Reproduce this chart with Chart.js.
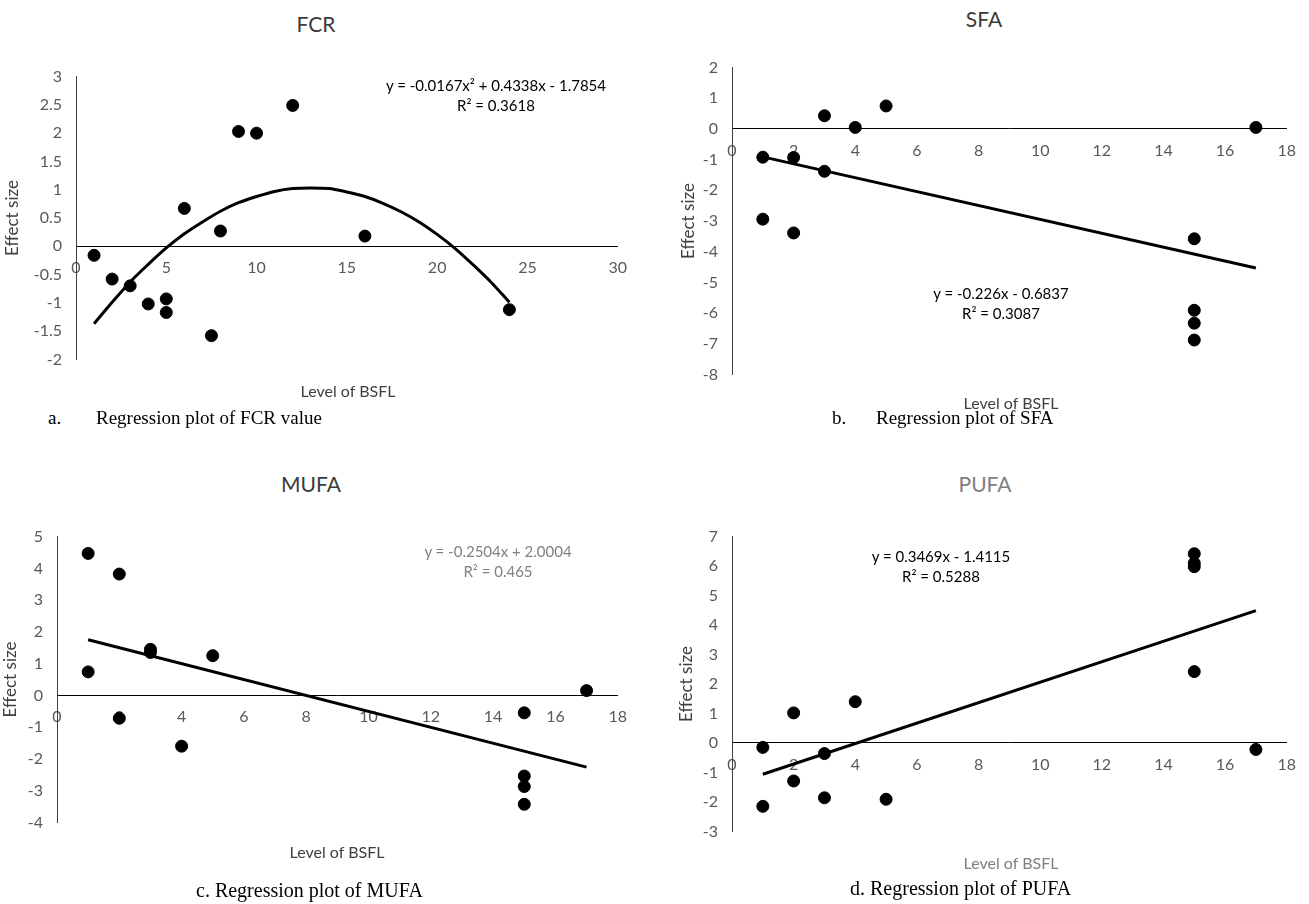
<!DOCTYPE html>
<html>
<head>
<meta charset="utf-8">
<script src="https://cdn.jsdelivr.net/npm/chart.js@4.4.1/dist/chart.umd.min.js"></script>
<style>
  body { margin: 0; background: #fff; }
  #page { position: relative; width: 1309px; height: 904px; overflow: hidden; font-family: Lato, sans-serif; }
  canvas { position: absolute; }
  .lbl { position: absolute; transform: translate(-50%, -50%); white-space: nowrap; }
  .title { font-size: 21px; color: #3b3b3b; }
  .xtitle { font-size: 16px; color: #404040; }
  .eq { font-size: 15px; color: #000; text-align: center; line-height: 20px; }
  .grey { color: #808080; }
  .cap { position: absolute; font-family: "Liberation Serif", "Times New Roman", serif; font-size: 19px; color: #000; white-space: nowrap; transform: translateY(-50%); }
  .cap.big { font-size: 20px; }
</style>
</head>
<body>
<div id="page">
  <canvas id="fcrChart" width="635" height="330" style="left:4px;top:53px"></canvas>
  <canvas id="sfaChart" width="628" height="354" style="left:680px;top:44px"></canvas>
  <canvas id="mufaChart" width="637" height="333" style="left:2px;top:513px"></canvas>
  <canvas id="pufaChart" width="630" height="342" style="left:678px;top:513px"></canvas>

  <div class="lbl title" style="left:316px;top:23px">FCR</div>
  <div class="lbl title" style="left:984px;top:18px">SFA</div>
  <div class="lbl title" style="left:311px;top:483px">MUFA</div>
  <div class="lbl title grey" style="left:985px;top:483px">PUFA</div>

  <div class="lbl xtitle" style="left:348px;top:390px">Level of BSFL</div>
  <div class="lbl xtitle" style="left:1011px;top:402px">Level of BSFL</div>
  <div class="lbl xtitle" style="left:337px;top:851px">Level of BSFL</div>
  <div class="lbl xtitle grey" style="left:1011px;top:862px">Level of BSFL</div>

  <div class="lbl eq" style="left:496px;top:95px">y = -0.0167x² + 0.4338x - 1.7854<br>R² = 0.3618</div>
  <div class="lbl eq" style="left:1001px;top:303px">y = -0.226x - 0.6837<br>R² = 0.3087</div>
  <div class="lbl eq grey" style="left:498px;top:561px">y = -0.2504x + 2.0004<br>R² = 0.465</div>
  <div class="lbl eq" style="left:941px;top:566px">y = 0.3469x - 1.4115<br>R² = 0.5288</div>

  <div class="cap" style="left:48px;top:418px">a.</div>
  <div class="cap" style="left:96px;top:418px">Regression plot of FCR value</div>
  <div class="cap" style="left:832px;top:418px">b.</div>
  <div class="cap" style="left:876px;top:418px">Regression plot of SFA</div>
  <div class="cap big" style="left:196px;top:890px">c. Regression plot of MUFA</div>
  <div class="cap big" style="left:850px;top:888px">d. Regression plot of PUFA</div>
</div>
<script>
// FCR
const fcrX = [1, 2, 3, 4, 5, 5, 6, 7.5, 8, 9, 10, 12, 16, 24];
const fcrY = [-0.16, -0.58, -0.7, -1.02, -0.93, -1.17, 0.67, -1.58, 0.27, 2.03, 2.0, 2.49, 0.18, -1.12];
const fcrFitX = [1, 2, 3, 4, 5, 6, 7, 8, 9, 10, 11, 12, 13, 14, 15, 16, 17, 18, 19, 20, 21, 22, 23, 24];
const fcrFitY = [-1.37, -0.99, -0.63, -0.32, -0.03, 0.22, 0.43, 0.62, 0.77, 0.88, 0.97, 1.02, 1.03, 1.02, 0.96, 0.88, 0.76, 0.61, 0.43, 0.21, -0.04, -0.33, -0.64, -0.99];

// SFA
const sfaX = [1, 1, 2, 2, 3, 3, 4, 5, 15, 15, 15, 15, 17];
const sfaY = [-0.92, -2.94, -0.93, -3.39, 0.43, -1.38, 0.05, 0.75, -3.58, -5.91, -6.33, -6.88, 0.05];
const sfaFitX = [1, 17];
const sfaFitY = [-0.91, -4.53];

// MUFA
const mufaX = [1, 1, 2, 2, 3, 3, 4, 5, 15, 15, 15, 15, 17];
const mufaY = [4.47, 0.74, 3.82, -0.72, 1.45, 1.35, -1.6, 1.25, -0.55, -2.54, -2.87, -3.43, 0.15];
const mufaFitX = [1, 17];
const mufaFitY = [1.75, -2.26];

// PUFA
const pufaX = [1, 1, 2, 2, 3, 3, 4, 5, 15, 15, 15, 15, 17];
const pufaY = [-0.15, -2.15, 1.02, -1.29, -0.36, -1.86, 1.4, -1.91, 6.42, 6.1, 5.98, 2.42, -0.22];
const pufaFitX = [1, 17];
const pufaFitY = [-1.06, 4.49];

Chart.defaults.font.family = 'Lato';

function toPoints(xs, ys) {
    return xs.map((x, i) => ({ x: x, y: ys[i] }));
}

// excel style labels: 3 not 3.0
function tickText(v) {
    return String(Number(v.toFixed(2)));
}

function makeChart(id, o) {
    return new Chart(document.getElementById(id).getContext('2d'), {
        type: 'scatter',
        data: {
            datasets: [{
                data: toPoints(o.x, o.y),
                backgroundColor: '#000',
                borderColor: '#000',
                pointRadius: 6,
                pointHoverRadius: 6,
                order: 0
            }, {
                type: 'line',
                data: toPoints(o.fitX, o.fitY),
                borderColor: '#000',
                borderWidth: 3,
                pointRadius: 0,
                fill: false,
                cubicInterpolationMode: o.curve ? 'monotone' : 'default',
                order: 1
            }]
        },
        options: {
            responsive: false,
            animation: false,
            layout: { padding: { left: 0, top: 10, right: o.padRight, bottom: 10 } },
            plugins: { legend: { display: false }, tooltip: { enabled: false } },
            scales: {
                x: {
                    type: 'linear',
                    position: { y: 0 },
                    min: 0,
                    max: o.xMax,
                    grid: { display: false, drawTicks: false },
                    border: { color: '#000', width: 1 },
                    ticks: { stepSize: o.xStep, color: '#595959', font: { size: 16 }, padding: 12, maxRotation: 0, autoSkip: false, callback: tickText }
                },
                y: {
                    min: o.yMin,
                    max: o.yMax,
                    grid: { display: false, drawTicks: false },
                    border: { color: '#404040', width: 1 },
                    ticks: { stepSize: o.yStep, color: '#595959', font: { size: 16 }, padding: 14, autoSkip: false, callback: tickText },
                    title: { display: true, text: 'Effect size', color: '#404040', font: { size: 17, lineHeight: 1 }, padding: 0 },
                    afterFit: function(scale) { scale.width = o.yWidth; }
                }
            }
        }
    });
}

makeChart('fcrChart', { x: fcrX, y: fcrY, fitX: fcrFitX, fitY: fcrFitY, curve: true,
    xMax: 30, xStep: 5, yMin: -2, yMax: 3, yStep: 0.5, yWidth: 72, padRight: 20 });
makeChart('sfaChart', { x: sfaX, y: sfaY, fitX: sfaFitX, fitY: sfaFitY,
    xMax: 18, xStep: 2, yMin: -8, yMax: 2, yStep: 1, yWidth: 52, padRight: 20 });
makeChart('mufaChart', { x: mufaX, y: mufaY, fitX: mufaFitX, fitY: mufaFitY,
    xMax: 18, xStep: 2, yMin: -4, yMax: 5, yStep: 1, yWidth: 55, padRight: 20 });
makeChart('pufaChart', { x: pufaX, y: pufaY, fitX: pufaFitX, fitY: pufaFitY,
    xMax: 18, xStep: 2, yMin: -3, yMax: 7, yStep: 1, yWidth: 54, padRight: 18 });
</script>
</body>
</html>
